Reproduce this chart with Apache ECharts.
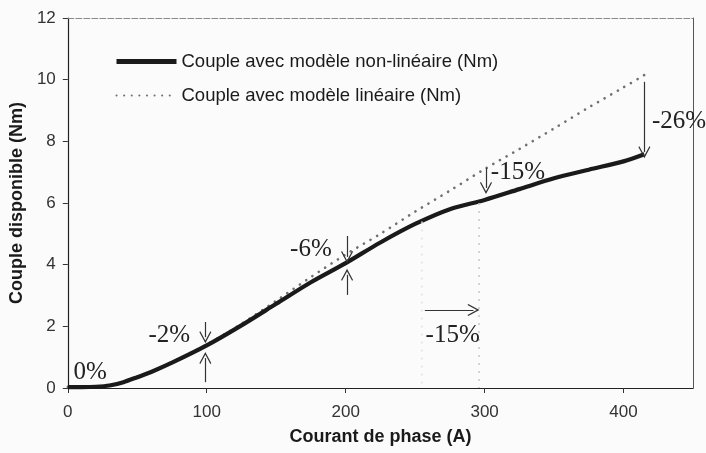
<!DOCTYPE html>
<html>
<head>
<meta charset="utf-8">
<script src="https://cdn.jsdelivr.net/npm/echarts@6/dist/echarts.min.js"></script>
<style>
  html, body { margin: 0; padding: 0; background: #fbfbfb; }
  #chart { width: 706px; height: 453px; }
</style>
</head>
<body>
<div id="chart"></div>
<script>
// courant de phase (A) and the two torque curves (Nm)
const currents  = [0, 10, 20, 30, 40, 50, 60, 75, 100, 125, 150, 175, 200, 225, 250, 275, 300, 325, 350, 375, 400, 415];
const nonLinear = [0.03, 0.03, 0.04, 0.08, 0.19, 0.35, 0.52, 0.82, 1.38, 2.03, 2.73, 3.43, 4.05, 4.72, 5.32, 5.8, 6.1, 6.45, 6.8, 7.08, 7.35, 7.58];
const linear    = [0.03, 0.03, 0.04, 0.08, 0.19, 0.36, 0.53, 0.84, 1.41, 2.08, 2.83, 3.6, 4.33, 5.0, 5.72, 6.4, 7.1, 7.75, 8.42, 9.1, 9.75, 10.15];

const xTicks = [0, 100, 200, 300, 400];
const yTicks = [0, 2, 4, 6, 8, 10, 12];
const xMax = 450;

// percentage notes: text, current, torque
const noteText = ['0%', '-2%', '-6%', '-15%', '-26%', '-15%'];
const noteX    = [16, 73, 175, 324, 440, 277];
const noteY    = [0.52, 1.72, 4.5, 7.0, 8.63, 1.72];

// arrows: [x1, y1, x2, y2] (tip at second point)
const arrows = [
  [99, 2.14, 99, 1.65],
  [99, 0.19, 99, 0.97],
  [201, 4.93, 201, 4.25],
  [201, 3.02, 201, 3.67],
  [301, 7.14, 301, 6.49],
  [415, 9.93, 415, 7.65],
  [257, 2.53, 292, 2.53]
];
// faint vertical guides: [current, top, colour]
const guides = [[296, 6.0, '#c8c8c8'], [255, 5.4, '#e2e2e2']];

const sans = '"Liberation Sans", Arial, sans-serif';
const serif = '"Liberation Serif", "Times New Roman", serif';

const arrowHead = 'path://M5,0 L10,9 L9.2,9.6 L5,2.2 L0.8,9.6 L0,9 Z';

const chart = echarts.init(document.getElementById('chart'));
chart.setOption({
  animation: false,
  backgroundColor: '#fbfbfb',
  grid: { left: 67, right: 13, top: 18, bottom: 65 },
  legend: {
    data: [
      { name: 'Couple avec modèle non-linéaire (Nm)', lineStyle: { width: 5 } },
      { name: 'Couple avec modèle linéaire (Nm)', lineStyle: { width: 2 } }
    ],
    orient: 'vertical',
    left: 109,
    top: 47,
    itemWidth: 60,
    itemHeight: 18,
    itemGap: 15,
    itemStyle: { opacity: 0 },
    textStyle: { fontFamily: sans, fontSize: 18.5, color: '#1a1a1a' }
  },
  xAxis: [{
    type: 'value',
    min: xTicks[0],
    max: xMax,
    interval: xTicks[1] - xTicks[0],
    name: 'Courant de phase (A)',
    nameLocation: 'middle',
    nameGap: 40,
    nameTextStyle: { fontFamily: sans, fontSize: 18, fontWeight: 'bold', color: '#1a1a1a' },
    axisLine: { onZero: false, lineStyle: { color: '#222', width: 1.2 } },
    axisTick: { show: true, length: 5, lineStyle: { color: '#333' } },
    axisLabel: { fontFamily: sans, fontSize: 17, color: '#333', margin: 16, showMaxLabel: false },
    splitLine: { show: false }
  }, {
    type: 'value',
    position: 'top',
    min: 0, max: xMax,
    axisLine: { show: true, onZero: false, lineStyle: { color: '#8a8a8a', width: 1, type: [6, 2] } },
    axisTick: { show: false },
    axisLabel: { show: false },
    splitLine: { show: false }
  }],
  yAxis: [{
    type: 'value',
    min: yTicks[0],
    max: yTicks[yTicks.length - 1],
    interval: yTicks[1] - yTicks[0],
    name: 'Couple disponible (Nm)',
    nameLocation: 'middle',
    nameRotate: 90,
    nameGap: 31,
    nameTextStyle: { fontFamily: sans, fontSize: 18, fontWeight: 'bold', color: '#1a1a1a' },
    axisLine: { show: true, onZero: false, lineStyle: { color: '#222', width: 1.2 } },
    axisTick: { show: true, length: 5, lineStyle: { color: '#333' } },
    axisLabel: { fontFamily: sans, fontSize: 17, color: '#333', margin: 12 },
    splitLine: { show: false }
  }, {
    type: 'value',
    position: 'right',
    min: 0, max: 12,
    axisLine: { show: true, onZero: false, lineStyle: { color: '#555', width: 1 } },
    axisTick: { show: false },
    axisLabel: { show: false },
    splitLine: { show: false }
  }],
  series: [{
    name: 'Couple avec modèle linéaire (Nm)',
    type: 'line',
    data: currents.map((c, i) => [c, linear[i]]),
    smooth: 0.3,
    symbol: 'none',
    itemStyle: { color: '#707070' },
    lineStyle: { color: '#707070', width: 2.6, type: [0.1, 7.5], cap: 'round' },
    z: 2
  }, {
    name: 'Couple avec modèle non-linéaire (Nm)',
    type: 'line',
    data: currents.map((c, i) => [c, nonLinear[i]]),
    smooth: 0.3,
    symbol: 'none',
    itemStyle: { color: '#1a1a1a' },
    lineStyle: { color: '#1a1a1a', width: 4.2 },
    z: 3
  }, {
    name: 'notes',
    type: 'line',
    data: [],
    silent: true,
    markLine: {
      silent: true,
      animation: false,
      symbol: ['none', arrowHead],
      symbolSize: [12, 12],
      label: { show: false },
      lineStyle: { color: '#333', width: 1.2, type: 'solid' },
      data: arrows.map(a => [{ coord: [a[0], a[1]] }, { coord: [a[2], a[3]] }])
    },
    markPoint: {
      silent: true,
      animation: false,
      symbol: 'circle',
      symbolSize: 0,
      label: {
        show: true,
        position: 'inside',
        fontFamily: serif,
        fontSize: 25,
        color: '#222',
        formatter: p => p.name
      },
      data: noteText.map((t, i) => ({ name: t, coord: [noteX[i], noteY[i]] }))
    }
  }, {
    name: 'guides',
    type: 'line',
    data: [],
    silent: true,
    markLine: {
      silent: true,
      animation: false,
      symbol: ['none', 'none'],
      label: { show: false },
      data: guides.map(g => [
        { coord: [g[0], g[1]], lineStyle: { color: g[2], width: 1.5, type: [2, 6] } },
        { coord: [g[0], 0] }
      ])
    },
    z: 1
  }]
});
</script>
</body>
</html>
